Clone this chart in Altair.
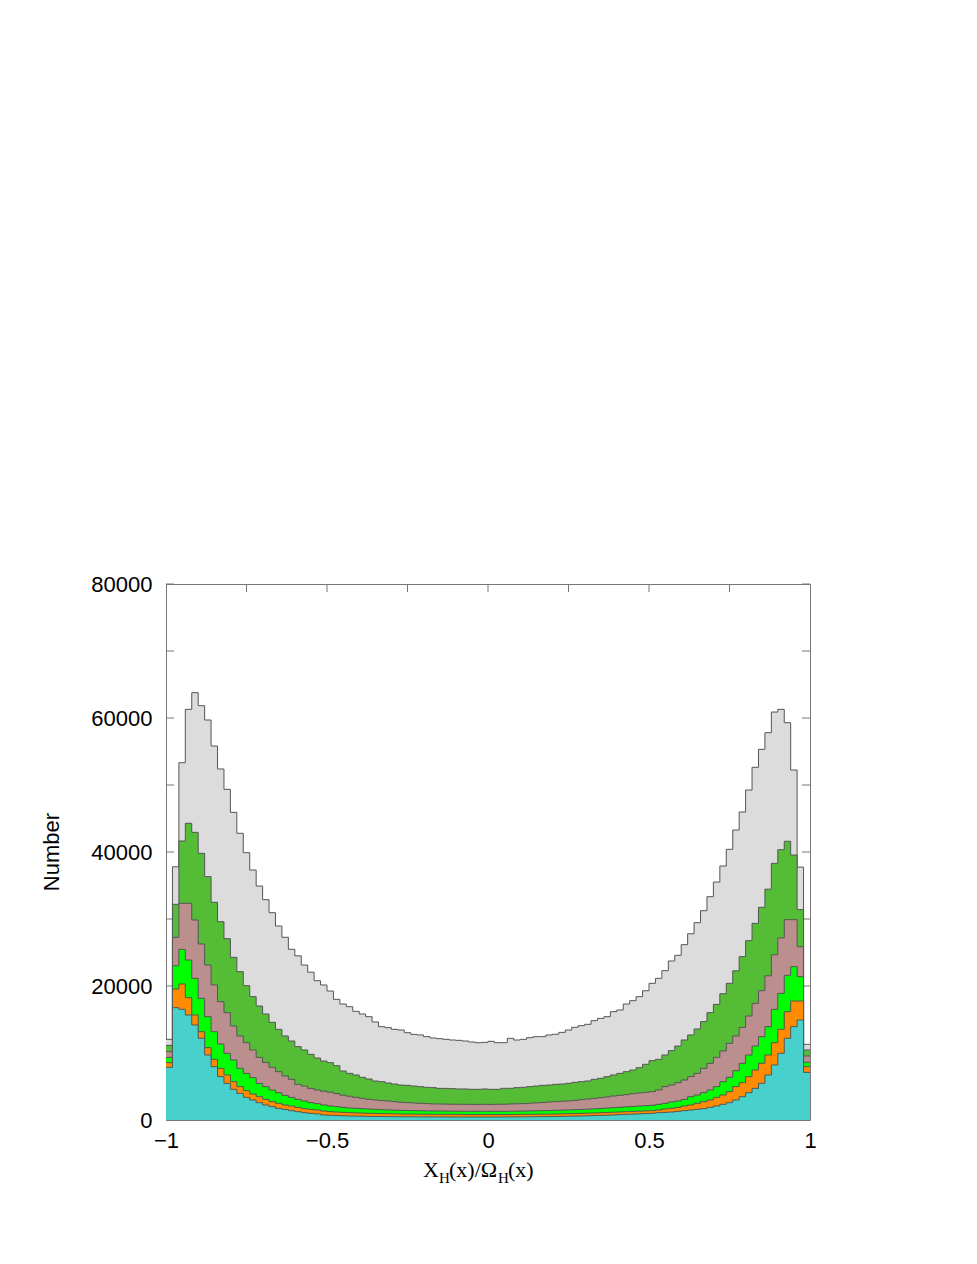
import altair as alt
import pandas as pd
import numpy as np

# ---------------- data (counts per bin) ----------------
# 100 bins of width 0.02 from -1 to 1; values are the cumulative top of each layer
bin_edges = [round(-1 + 0.02 * k, 2) for k in range(101)]

total = [12040, 37800, 53330, 61290, 63780, 61840, 59700, 55820, 52390, 49350,
         45920, 42790, 39900, 37310, 34920, 32880, 30940, 28950, 27270, 25480,
         24500, 23130, 22060, 20790, 20150, 19250, 18010, 17310, 16910, 16220,
         15820, 15420, 14630, 13930, 13780, 13530, 13430, 13030, 12780, 12690,
         12440, 12240, 12140, 12040, 11940, 11890, 11790, 11640, 11540, 11590,
         11740, 11540, 11540, 12190, 11940, 12040, 12290, 12440, 12440, 12690,
         12800, 13080, 13430, 13830, 14080, 14280, 14830, 15170, 15420, 16170,
         16420, 17310, 17810, 18410, 19300, 20400, 21140, 22290, 23730, 24580,
         26170, 27800, 29450, 31240, 33330, 35520, 37910, 40400, 43280, 45970,
         49250, 52640, 55320, 57810, 60890, 61290, 59300, 52240, 37750, 11290]

dark_green = [11140, 32190, 41640, 44280, 42930, 39800, 36320, 32490, 29600, 27060,
              24280, 22140, 20050, 18410, 17010, 15820, 14580, 13530, 12540, 11790,
              10950, 10450, 9800, 9250, 8800, 8560, 8110, 7310, 6960, 6720,
              6370, 6120, 5820, 5720, 5520, 5370, 5220, 5170, 5070, 4980,
              4880, 4830, 4720, 4720, 4680, 4630, 4630, 4580, 4580, 4630,
              4580, 4580, 4730, 4730, 4830, 4880, 4980, 5070, 5170, 5220,
              5320, 5370, 5470, 5620, 5720, 5820, 6070, 6220, 6470, 6720,
              6960, 7210, 7460, 7810, 8310, 8860, 9050, 9700, 10350, 11040,
              11940, 12690, 13580, 14680, 16020, 17260, 18850, 20400, 22260, 24380,
              26760, 29350, 31740, 34450, 38310, 40350, 41600, 39550, 31390, 10450]

rosy_brown = [10200, 27260, 32340, 32340, 29850, 26270, 23130, 20150, 17660, 16020,
              14030, 12540, 11540, 10450, 9350, 8600, 7860, 7210, 6570, 6070,
              5320, 5070, 4720, 4480, 4300, 4150, 3950, 3700, 3550, 3380,
              3230, 3080, 2990, 2890, 2840, 2740, 2640, 2590, 2540, 2490,
              2440, 2400, 2390, 2370, 2350, 2350, 2340, 2330, 2330, 2340,
              2330, 2340, 2360, 2390, 2420, 2450, 2500, 2560, 2610, 2680,
              2740, 2790, 2840, 2930, 3030, 3130, 3230, 3330, 3430, 3580,
              3680, 3780, 3930, 4030, 4130, 4230, 4480, 4980, 5220, 5570,
              5970, 6470, 6960, 7710, 8460, 9350, 10300, 11440, 12540, 13830,
              15520, 17410, 19300, 21520, 24650, 27180, 29900, 29900, 25870, 9550]

bright_green = [9350, 23030, 25470, 23880, 21140, 18160, 15420, 13180, 11340, 9950,
                8960, 7710, 6960, 6320, 5470, 4980, 4480, 4080, 3680, 3380,
                3080, 2840, 2590, 2440, 2240, 2100, 1990, 1890, 1800, 1740,
                1690, 1640, 1590, 1540, 1500, 1470, 1440, 1420, 1400, 1380,
                1360, 1350, 1340, 1330, 1320, 1310, 1310, 1300, 1300, 1310,
                1300, 1300, 1300, 1310, 1320, 1330, 1350, 1370, 1390, 1410,
                1440, 1470, 1500, 1540, 1580, 1620, 1670, 1720, 1780, 1840,
                1900, 1960, 2020, 2080, 2140, 2190, 2340, 2490, 2690, 2840,
                3080, 3480, 3730, 4080, 4480, 4980, 5720, 6370, 7360, 8460,
                9700, 11040, 12440, 13930, 16520, 18900, 21590, 22890, 21390, 8610]

orange = [8560, 19550, 20300, 18260, 15670, 13180, 10800, 9050, 7710, 6720,
          5720, 4980, 4380, 3880, 3480, 3080, 2740, 2490, 2240, 2090,
          1890, 1690, 1590, 1490, 1340, 1250, 1190, 1140, 1100, 1060,
          1030, 1000, 980, 960, 940, 920, 900, 890, 880, 870,
          860, 850, 850, 840, 840, 830, 830, 820, 830, 820,
          820, 820, 820, 830, 830, 840, 850, 860, 870, 880,
          900, 920, 940, 960, 990, 1020, 1050, 1080, 1120, 1160,
          1200, 1240, 1280, 1320, 1360, 1390, 1490, 1640, 1740, 1890,
          2090, 2240, 2490, 2740, 2990, 3380, 3730, 4230, 4980, 5570,
          6470, 7460, 8460, 9700, 11540, 13530, 16170, 17760, 17760, 7960]

cyan = [7860, 16770, 16520, 15670, 14180, 12190, 9700, 7960, 6470, 5470,
        4580, 3980, 3380, 2990, 2590, 2240, 1990, 1740, 1590, 1390,
        1240, 1090, 990, 900, 750, 700, 660, 630, 600, 580,
        560, 540, 530, 520, 510, 500, 490, 480, 480, 470,
        470, 460, 460, 460, 450, 450, 450, 450, 450, 450,
        450, 450, 450, 460, 460, 470, 480, 490, 500, 510,
        520, 540, 560, 580, 600, 630, 660, 690, 720, 760,
        800, 840, 880, 920, 960, 1000, 1090, 1140, 1190, 1290,
        1390, 1490, 1590, 1690, 1890, 2090, 2340, 2590, 2990, 3480,
        4080, 4720, 5470, 6720, 8210, 9950, 12190, 13930, 14930, 7110]

layer_names = ["total", "dark_green", "rosy_brown", "bright_green", "orange", "cyan"]
layer_values = [total, dark_green, rosy_brown, bright_green, orange, cyan]
layer_colors = ["#dcdcdc", "#55bd35", "#bc8f8f", "#00ff00", "#ff8c00", "#48d1cc"]

y_tick_values = [0, 10000, 20000, 30000, 40000, 50000, 60000, 70000, 80000]
y_label_values = [0, 20000, 40000, 60000, 80000]
x_tick_values = [-0.75, -0.5, -0.25, 0, 0.25, 0.5, 0.75]
x_label_values = [-1, -0.5, 0, 0.5, 1]

W, H = 644, 536
TICK = 8

xscale = alt.Scale(domain=[-1, 1], nice=False, zero=False)
yscale = alt.Scale(domain=[0, 80000], nice=False)

x_axis = alt.Axis(values=x_label_values, format="~g", labelFlush=False, labelPadding=10,
                  labelExpr="replace(datum.label, '-', '\u2212')", title=None,
                  ticks=False, domain=False, grid=False, labelOverlap=False)
y_axis = alt.Axis(values=y_label_values, format="d", labelPadding=14, title=None,
                  ticks=False, domain=False, grid=False, labelOverlap=False)

# tick marks (inside the frame, under the fills)
ytick_df = pd.DataFrame({"v": y_tick_values})
xtick_df = pd.DataFrame({"v": x_tick_values})
tick_col = "#777777"
ticks = [
    alt.Chart(ytick_df).mark_rule(color=tick_col, strokeWidth=1).encode(
        y=alt.Y("v:Q", scale=yscale, axis=y_axis), x=alt.value(0), x2=alt.value(TICK)),
    alt.Chart(ytick_df).mark_rule(color=tick_col, strokeWidth=1).encode(
        y=alt.Y("v:Q", scale=yscale, axis=y_axis), x=alt.value(W - TICK), x2=alt.value(W)),
    alt.Chart(xtick_df).mark_rule(color=tick_col, strokeWidth=1).encode(
        x=alt.X("v:Q", scale=xscale, axis=x_axis), y=alt.value(0), y2=alt.value(TICK)),
    alt.Chart(xtick_df).mark_rule(color=tick_col, strokeWidth=1).encode(
        x=alt.X("v:Q", scale=xscale, axis=x_axis), y=alt.value(H - TICK), y2=alt.value(H)),
]

layers = []
for name, vals, col in zip(layer_names, layer_values, layer_colors):
    df = pd.DataFrame({"x": bin_edges, "y": list(vals) + [vals[-1]]})
    area = alt.Chart(df).mark_area(interpolate="step-after", color=col, opacity=1).encode(
        x=alt.X("x:Q", scale=xscale, axis=x_axis),
        y=alt.Y("y:Q", scale=yscale, axis=y_axis, stack=None),
    )
    line = alt.Chart(df).mark_line(interpolate="step-after", color="#555555", strokeWidth=1).encode(
        x=alt.X("x:Q", scale=xscale, axis=x_axis),
        y=alt.Y("y:Q", scale=yscale, axis=y_axis, stack=None),
    )
    layers += [area, line]

# axis titles
ytitle = alt.Chart(pd.DataFrame({"t": ["Number"]})).mark_text(
    angle=270, font="Liberation Sans", fontSize=22, align="center", baseline="middle", color="black"
).encode(text="t:N", x=alt.value(-114), y=alt.value(268))

title_parts = [
    ("X", 257, 593, 22),
    ("H", 273, 599, 15),
    ("(x)/\u03a9", 283, 593, 22),
    ("H", 332, 599, 15),
    ("(x)", 342, 593, 22),
]
xtitle = []
for txt, px, py, fs in title_parts:
    xtitle.append(
        alt.Chart(pd.DataFrame({"t": [txt]})).mark_text(
            font="Liberation Serif", fontSize=fs, align="left", baseline="alphabetic", color="black"
        ).encode(text="t:N", x=alt.value(px), y=alt.value(py))
    )

chart = alt.layer(*ticks, *layers, ytitle, *xtitle).properties(
    width=W, height=H,
    autosize=alt.AutoSizeParams(type="none"),
    padding={"left": 158, "top": 576, "right": 100, "bottom": 120},
).configure_axis(
    labelFont="Liberation Sans", labelFontSize=22, labelColor="black",
).configure_view(stroke="#777777", strokeWidth=1)

chart.save("out.html", embed_options={"renderer": "svg", "actions": False})
